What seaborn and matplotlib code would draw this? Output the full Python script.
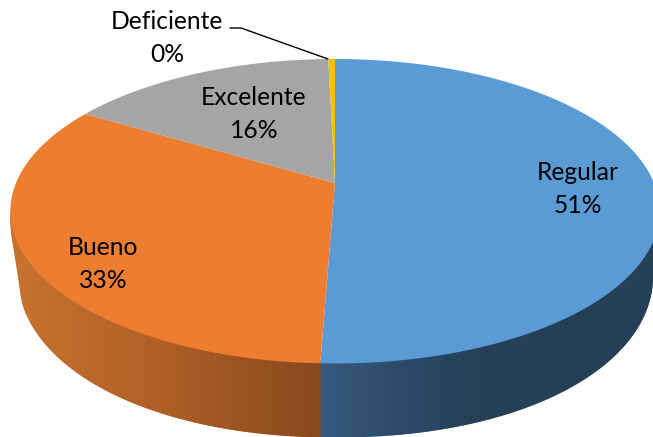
import numpy as np
import seaborn as sns
import matplotlib.pyplot as plt
from matplotlib.path import Path
from matplotlib.transforms import Transform

sns.set_theme(style='white')
plt.rcParams['font.family'] = ['Lato', 'DejaVu Sans']

# Data
categories = ['Regular', 'Bueno', 'Excelente', 'Deficiente']
values = [50.6, 33.0, 16.0, 0.4]
percent_labels = ['51%', '33%', '16%', '0%']
colors = ['#5B9BD5', '#ED7D31', '#A5A5A5', '#FFC000']

# Where each label goes, in pixels
label_pos = [(578, 189), (103, 264), (254, 114), (167, 38)]

# Geometry of the tilted disc, in pixels
cx, vertex_y = 335, 183
a, b, k = 319, 147, 0.1855
top_cy, top_rx, top_ry = 211, 325, 152.5
bot_cy, bot_rx, bot_ry, bot_p = 272, 318, 165, 2.1


class Tilt(Transform):
    # Maps the unit circle of the pie to the disc seen in perspective
    input_dims = 2
    output_dims = 2
    is_separable = False

    def transform_non_affine(self, values):
        u, v = values[:, 0], values[:, 1]
        w = 1 + k * v
        return np.column_stack([cx + a * u / w, vertex_y - b * v / w])

    def transform_path_non_affine(self, path):
        # flatten the curves first so the arc stays smooth after the mapping
        t = np.linspace(0, 1, 40)
        pts = np.vstack([seg(t) for seg, _ in path.iter_bezier()])
        return Path(self.transform_non_affine(pts))


fig = plt.figure(figsize=(6.53, 4.37), dpi=100)
ax = fig.add_axes([0, 0, 1, 1])

wedges, _ = ax.pie(values, colors=colors, startangle=90, counterclock=False,
                   wedgeprops={'linewidth': 0, 'zorder': 3})
tilt = Tilt()
for w in wedges:
    w.set_transform(tilt + ax.transData)

ax.set_aspect('auto')
ax.set_xlim(0, 653)
ax.set_ylim(437, 0)

# Side wall of the disc, strip by strip
split_angle = np.radians(wedges[0].theta1)
split_x = tilt.transform_non_affine(np.array([[np.cos(split_angle), np.sin(split_angle)]]))[0, 0]


def top_edge(x):
    return top_cy + top_ry * np.sqrt(np.clip(1 - ((x - cx) / top_rx) ** 2, 0, 1))


def bottom_edge(x):
    d = np.clip(np.abs((x - cx) / bot_rx), 0, 1)
    y = bot_cy + bot_ry * (1 - d ** bot_p) ** (1 / bot_p)
    return np.where(x < 21, np.interp(x, [9, 10, 17, 21], [211, 230, 273, 301]), y)


xs = np.unique(np.r_[np.arange(9.5, 654, 1.0), split_x])
left_xs = xs[:-1][xs[:-1] < split_x]
right_xs = xs[:-1][xs[:-1] >= split_x]
orange_side = sns.blend_palette(['#C8722E', '#AD5F26', '#87481B'], len(left_xs))
blue_side = sns.blend_palette(['#36597C', '#2A4A68', '#243F56', '#243F56', '#243F56'], len(right_xs))

# each strip runs a little under the next one so no seams show
strip_colors = list(orange_side) + list(blue_side)
for x0, x1, c in zip(xs[:-1], xs[1:], strip_colors):
    seg = np.array([x0, x1 + 0.6])
    ax.fill_between(seg, top_edge(seg) - 3, bottom_edge(seg),
                    color=c, linewidth=0, zorder=1)

# Labels
for name, pct, (lx, ly) in zip(categories, percent_labels, label_pos):
    ax.text(lx, ly, f'{name}\n{pct}', ha='center', va='center', fontsize=17.7,
            color='black', linespacing=1.5, zorder=5)

# Leader line for the small slice
ax.plot([230, 241, 328], [28, 28, 59], color='black', lw=1, zorder=5)

plt.savefig('out.png', dpi=100)
plt.close()
